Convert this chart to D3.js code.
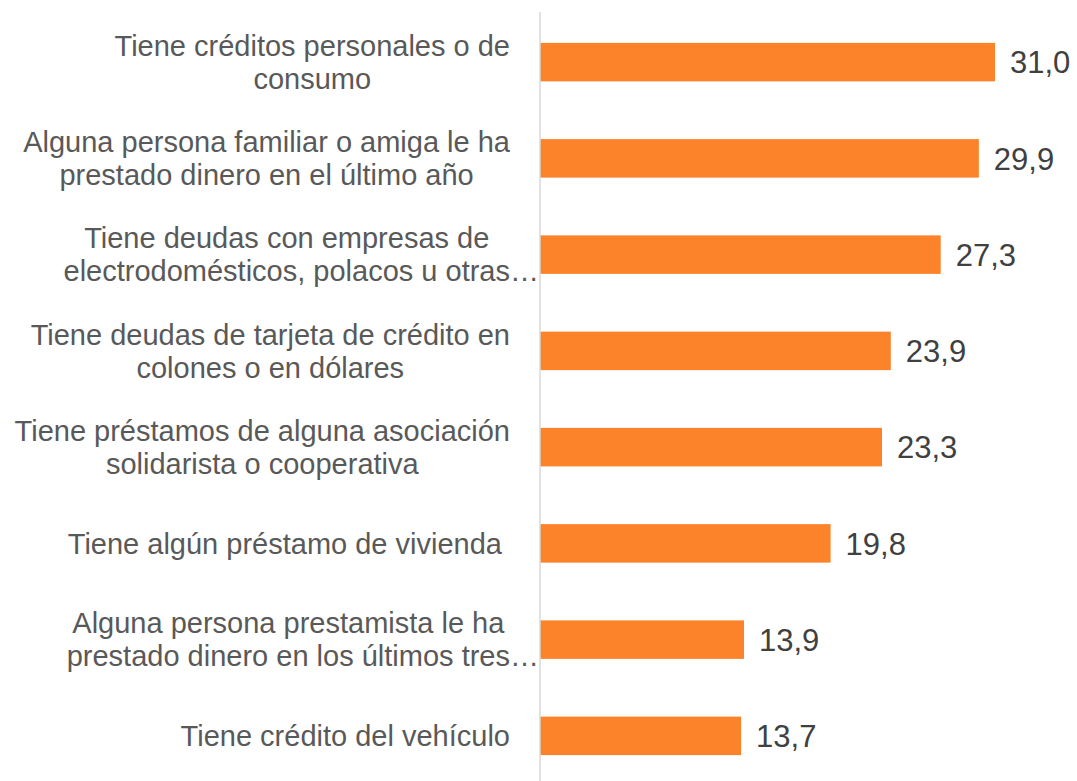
<!DOCTYPE html>
<html>
<head>
<meta charset="utf-8">
<script src="https://cdn.jsdelivr.net/npm/d3@7"></script>
<style>
  body { margin: 0; background: #fff; }
  svg { display: block; }
</style>
</head>
<body>
<div id="graph"></div>
<script>
// categories (as shown, already wrapped) and values
var categories = [
    ["Tiene créditos personales o de", "consumo"],
    ["Alguna persona familiar o amiga le ha", "prestado dinero en el último año"],
    ["Tiene deudas con empresas de", "electrodomésticos, polacos u otras…"],
    ["Tiene deudas de tarjeta de crédito en", "colones o en dólares"],
    ["Tiene préstamos de alguna asociación", "solidarista o cooperativa"],
    ["Tiene algún préstamo de vivienda "],
    ["Alguna persona prestamista le ha", "prestado dinero en los últimos tres…"],
    ["Tiene crédito del vehículo"]
];
var values = [31.0, 29.9, 27.3, 23.9, 23.3, 19.8, 13.9, 13.7];
var valueLabels = ["31,0", "29,9", "27,3", "23,9", "23,3", "19,8", "13,9", "13,7"];

var width = 1077, height = 781;
var svg = d3.select("#graph").append("svg")
    .attr("width", width)
    .attr("height", height);

var axisX = 540;
var font = "'Liberation Sans', Arial, sans-serif";

var x = d3.scaleLinear()
    .domain([0, 31])
    .range([axisX, 995]);

var y = d3.scaleBand()
    .domain(d3.range(values.length))
    .range([14, 784])
    .paddingInner(0.6)
    .paddingOuter(0.3);

//bars
svg.append("g").selectAll("rect")
    .data(values)
    .enter().append("rect")
    .attr("x", x(0))
    .attr("y", function(d, i) { return y(i); })
    .attr("width", function(d) { return x(d) - x(0); })
    .attr("height", y.bandwidth())
    .attr("fill", "#fd832b");

//vertical axis line
svg.append("line")
    .attr("x1", axisX).attr("x2", axisX)
    .attr("y1", 12).attr("y2", 781)
    .attr("stroke", "#d9d9d9")
    .attr("stroke-width", 1.5);

//value labels
svg.append("g").selectAll("text")
    .data(values)
    .enter().append("text")
    .attr("x", function(d) { return x(d) + 15; })
    .attr("y", function(d, i) { return y(i) + y.bandwidth() / 2; })
    .attr("dy", "0.36em")
    .attr("font-family", font)
    .attr("font-size", "31px")
    .attr("fill", "#404040")
    .text(function(d, i) { return valueLabels[i]; });

//category labels: lines centred in a block that is right aligned,
//the ellipsis of a cut line hangs past the block
var labelRight = 510, lineH = 33;
var labels = svg.append("g")
    .attr("font-family", font)
    .attr("font-size", "29px")
    .attr("fill", "#595959");

var measure = labels.append("text").attr("xml:space", "preserve");
function textW(s) {
    measure.text(s);
    return measure.node().getComputedTextLength();
}

categories.forEach(function(lines, i) {
    var cy = y(i) + y.bandwidth() / 2;
    var widths = lines.map(function(l) { return textW(l.replace(/…$/, "")); });
    var cx = labelRight - d3.max(widths) / 2;
    lines.forEach(function(l, j) {
        labels.append("text")
            .attr("xml:space", "preserve")
            .attr("x", cx - widths[j] / 2)
            .attr("y", cy + (j - (lines.length - 1) / 2) * lineH)
            .attr("dy", "0.35em")
            .text(l);
    });
});
measure.remove();
</script>
</body>
</html>
